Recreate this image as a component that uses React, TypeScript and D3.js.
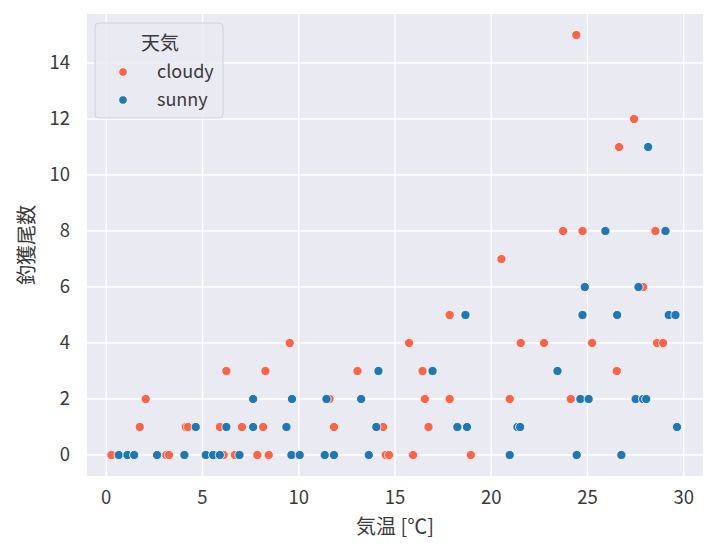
import React from "react";
import * as d3 from "d3";

// ---- data ----
const cloudyTemp = [
  0.27, 3.12, 3.26, 6.1, 6.68, 7.85, 8.44, 14.52, 14.69, 15.94, 18.94,
  1.74, 4.13, 4.25, 5.9, 7.05, 8.15, 11.83, 14.38, 16.74,
  2.05, 11.6, 16.55, 17.84, 20.96, 24.13,
  6.24, 8.27, 13.05, 16.43, 26.52,
  9.53, 15.73, 21.53, 22.74, 25.24, 28.61, 28.93,
  17.84, 27.89, 20.53, 23.73, 24.74, 28.53, 26.64, 27.42, 24.42,
];
const cloudyCatch = [
  0, 0, 0, 0, 0, 0, 0, 0, 0, 0, 0,
  1, 1, 1, 1, 1, 1, 1, 1, 1,
  2, 2, 2, 2, 2, 2,
  3, 3, 3, 3, 3,
  4, 4, 4, 4, 4, 4, 4,
  5, 6, 7, 8, 8, 8, 11, 12, 15,
];
const sunnyTemp = [
  0.65, 1.1, 1.45, 2.64, 4.06, 5.17, 5.55, 5.9, 6.92, 9.62, 10.05, 11.35, 11.83, 13.64, 20.96, 24.44, 26.76,
  4.65, 6.24, 7.63, 9.36, 14.03, 18.24, 18.74, 21.36, 21.5, 29.65,
  7.63, 9.65, 11.44, 13.24, 24.63, 25.06, 27.5, 27.89, 28.05,
  14.14, 16.95, 23.44,
  18.66, 24.74, 26.54, 29.22, 29.57,
  24.86, 27.65,
  25.93, 29.05,
  28.15,
];
const sunnyCatch = [
  0, 0, 0, 0, 0, 0, 0, 0, 0, 0, 0, 0, 0, 0, 0, 0, 0,
  1, 1, 1, 1, 1, 1, 1, 1, 1, 1,
  2, 2, 2, 2, 2, 2, 2, 2, 2,
  3, 3, 3,
  5, 5, 5, 5, 5,
  6, 6,
  8, 8,
  11,
];
const xTicks = [0, 5, 10, 15, 20, 25, 30];
const yTicks = [0, 2, 4, 6, 8, 10, 12, 14];
const seriesNames = ["cloudy", "sunny"];
const xLabel = "気温 [℃]";
const yLabel = "釣獲尾数";
const legendTitle = "天気";

const colors: Record<string, string> = { cloudy: "#ff6347", sunny: "#1f77b4" };
const font = "'Noto Sans CJK JP', 'Noto Sans', sans-serif";
const textColor = "#3a3a3a";

export default function App() {
  const W = 720, H = 550;
  const left = 87, right = 703, top = 14, bottom = 476;
  const x = d3.scaleLinear().domain([-1.0, 31.0]).range([left, right]);
  const y = d3.scaleLinear().domain([-0.75, 15.75]).range([bottom, top]);

  const series = [
    { name: "cloudy", xs: cloudyTemp, ys: cloudyCatch },
    { name: "sunny", xs: sunnyTemp, ys: sunnyCatch },
  ];

  return (
    <svg
      width={W}
      height={H}
      style={{ position: "absolute", left: 0, top: 0, background: "#fff" }}
      fontFamily={font}
    >
      <rect x={0} y={0} width={W} height={H} fill="#fff" />
      <rect x={left} y={top} width={right - left} height={bottom - top} fill="#eaeaf2" />
      {xTicks.map((t) => (
        <line key={"gx" + t} x1={x(t)} x2={x(t)} y1={top} y2={bottom} stroke="#fff" strokeWidth={1.4} />
      ))}
      {yTicks.map((t) => (
        <line key={"gy" + t} x1={left} x2={right} y1={y(t)} y2={y(t)} stroke="#fff" strokeWidth={1.4} />
      ))}
      {series.map((s) =>
        s.xs.map((v, i) => (
          <circle
            key={s.name + i}
            cx={x(v)}
            cy={y(s.ys[i])}
            r={4.6}
            fill={colors[s.name]}
            stroke="#fff"
            strokeWidth={0.8}
          />
        ))
      )}
      {xTicks.map((t) => (
        <text key={"tx" + t} x={x(t)} y={bottom + 28} textAnchor="middle" fontSize={18.5} fill={textColor}>
          {t}
        </text>
      ))}
      {yTicks.map((t) => (
        <text key={"ty" + t} x={left - 17} y={y(t)} dy="0.35em" textAnchor="end" fontSize={18.5} fill={textColor}>
          {t}
        </text>
      ))}
      <text x={(left + right) / 2} y={bottom + 58} textAnchor="middle" fontSize={20} fill={textColor}>
        {xLabel}
      </text>
      <text
        transform={`translate(${27},${(top + bottom) / 2}) rotate(-90)`}
        textAnchor="middle"
        dy="0.35em"
        fontSize={20}
        fill={textColor}
      >
        {yLabel}
      </text>
      <g>
        <rect x={95} y={23} width={128} height={95} rx={4} fill="#eaeaf2" fillOpacity={0.85} stroke="#d0d0d8" strokeWidth={1} />
        <text x={160} y={43} dy="0.35em" textAnchor="middle" fontSize={19} fill={textColor}>
          {legendTitle}
        </text>
        {seriesNames.map((n, i) => (
          <g key={n}>
            <circle cx={123} cy={72 + i * 28} r={4.3} fill={colors[n]} stroke="#fff" strokeWidth={0.8} />
            <text x={157} y={72 + i * 28} dy="0.35em" fontSize={18} fill={textColor}>
              {n}
            </text>
          </g>
        ))}
      </g>
    </svg>
  );
}
